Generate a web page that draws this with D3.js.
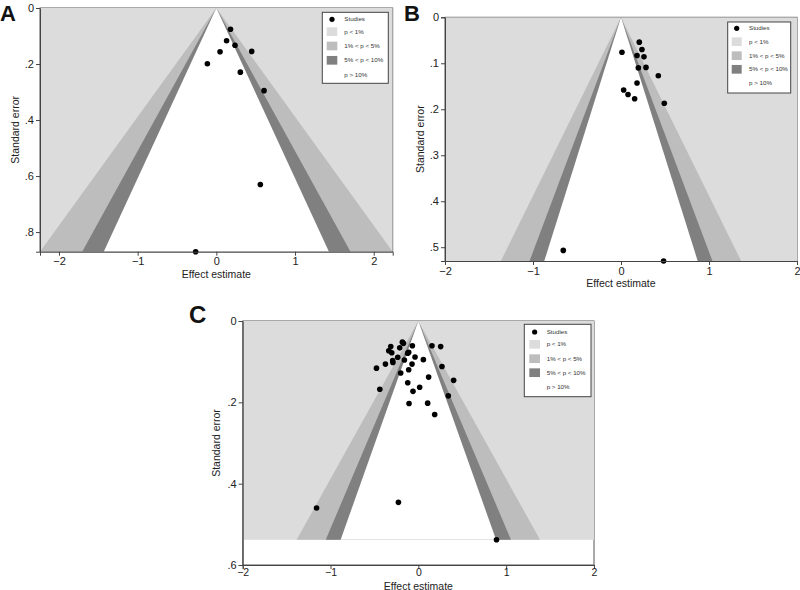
<!DOCTYPE html>
<html>
<head>
<meta charset="utf-8">
<script src="https://cdn.jsdelivr.net/npm/d3@7"></script>
<style>
html,body{margin:0;padding:0;background:#fff;}
svg{display:block;font-family:"Liberation Sans",Arial,sans-serif;}
</style>
</head>
<body>
<svg id="chart" width="800" height="590"></svg>
<script>
// ---- data ----
const panelNames = ["A", "B", "C"];
const contourZ = [2.576, 1.96, 1.645];
const contourFill = ["#bdbdbd", "#808080", "#ffffff"];
const legendLabels = ["Studies", "p < 1%", "1% < p < 5%", "5% < p < 10%", "p > 10%"];
const legendColors = [null, "#dcdcdc", "#bdbdbd", "#808080", null];

const effectA = [0.18, 0.13, 0.047, 0.237, 0.449, -0.114, 0.305, 0.606, 0.559, -0.263];
const seA     = [0.076, 0.117, 0.156, 0.133, 0.155, 0.199, 0.229, 0.295, 0.630, 0.870];
const xTicksA = [-2, -1, 0, 1, 2];
const yTicksA = [0, 0.2, 0.4, 0.6, 0.8];

const effectB = [0.208, 0.238, 0.011, 0.182, 0.261, 0.197, 0.284, 0.424, 0.182, 0.03, 0.08, 0.155, 0.492, -0.656, 0.484];
const seB     = [0.054, 0.070, 0.076, 0.083, 0.086, 0.110, 0.109, 0.127, 0.143, 0.158, 0.168, 0.177, 0.187, 0.507, 0.530];
const xTicksB = [-2, -1, 0, 1, 2];
const yTicksB = [0, 0.1, 0.2, 0.3, 0.4, 0.5];

const effectC = [-0.182, -0.17, -0.068, 0.155, 0.254, -0.314, -0.212, -0.337, -0.303, -0.121, -0.11, -0.038, -0.235, 0.057, -0.159, -0.292, -0.29, -0.375, -0.072, -0.477, 0.269, -0.110, -0.201, 0.117, 0.402, -0.121, 0.015, -0.439, -0.061, 0.341, -0.106, 0.106, 0.186, -0.227, -1.159, 0.890];
const seC     = [0.052, 0.055, 0.061, 0.061, 0.063, 0.063, 0.066, 0.073, 0.078, 0.079, 0.077, 0.0885, 0.089, 0.095, 0.096, 0.0975, 0.102, 0.106, 0.106, 0.116, 0.112, 0.120, 0.128, 0.138, 0.146, 0.152, 0.163, 0.168, 0.173, 0.184, 0.203, 0.202, 0.230, 0.446, 0.460, 0.538];
const xTicksC = [-2, -1, 0, 1, 2];
const yTicksC = [0, 0.2, 0.4, 0.6];

const panels = [
  {name:"A", eff:effectA, se:seA, xt:xTicksA, yt:yTicksA, xDom:null, yMax:null, xtSize:11, xtPad:2,
   x0:40, x1:392.7, y0:8, y1:251.7, letter:[0,21,22], yTitleX:15, xTitleY:277.5, legend:[322.3,12.3,66,71], lg:{sw:[326.7,10.6,8.7], tx:344.3, rows:[19.3,31.7,46,60.3,75]}},
  {name:"B", eff:effectB, se:seB, xt:xTicksB, yt:yTicksB, xDom:[-2,2], yMax:null, xtSize:11, xtPad:2,
   x0:445, x1:797, y0:17.3, y1:261, letter:[404,21,22], yTitleX:420, xTitleY:287, legend:[727.7,22,63,71], lg:{sw:[731.7,10,8.7], tx:749, rows:[28.3,41.7,55.7,69.3,83.3]}},
  {name:"C", eff:effectC, se:seC, xt:xTicksC, yt:yTicksC, xDom:[-2,2], yMax:0.6, xtSize:10.5, xtPad:0,
   x0:242.7, x1:594, y0:321, y1:565, letter:[189,323,24], yTitleX:216.7, xTitleY:589.5, legend:[524.3,324.3,66.7,72.4], lg:{sw:[529.3,10.7,8.7], tx:546.7, rows:[332,344.3,358.7,372.7,387.3]}}
];

const svg = d3.select("#chart");
const fmt = d => d === 0 ? "0" : d3.format(".1f")(d).replace(/^0/, "").replace(/^-0/, "-");

panels.forEach((p, i) => {
  const maxSE = d3.max(p.se);
  const xDom = p.xDom || [-contourZ[0]*maxSE, contourZ[0]*maxSE];
  const yMax = p.yMax || maxSE;
  const x = d3.scaleLinear().domain(xDom).range([p.x0, p.x1]);
  const y = d3.scaleLinear().domain([0, yMax]).range([p.y0, p.y1]);
  const g = svg.append("g");
  const clipId = "clip" + i;
  svg.append("clipPath").attr("id", clipId).append("rect")
    .attr("x", p.x0).attr("y", p.y0).attr("width", p.x1 - p.x0).attr("height", p.y1 - p.y0);

  // plot region outline (visible where not covered)
  g.append("rect").attr("x", p.x0).attr("y", p.y0).attr("width", p.x1 - p.x0).attr("height", p.y1 - p.y0)
    .attr("fill", "#fff").attr("stroke", "#555").attr("stroke-width", 1);

  const shade = g.append("g").attr("clip-path", `url(#${clipId})`);
  shade.append("rect").attr("x", x(xDom[0])).attr("y", y(0))
    .attr("width", x(xDom[1]) - x(xDom[0])).attr("height", y(maxSE) - y(0))
    .attr("fill", "#dcdcdc");
  contourZ.forEach((z, k) => {
    const pts = [[0, 0], [-z*maxSE, maxSE], [z*maxSE, maxSE]];
    shade.append("path")
      .attr("d", d3.line().x(d => x(d[0])).y(d => y(d[1]))(pts) + "Z")
      .attr("fill", contourFill[k]);
  });

  // points
  g.append("g").selectAll("circle").data(p.eff.map((e, j) => [e, p.se[j]])).join("circle")
    .attr("cx", d => x(d[0])).attr("cy", d => y(d[1])).attr("r", 2.8).attr("fill", "#000");

  // axes
  const ax = g.append("g").attr("transform", `translate(0,${p.y1})`)
    .call(d3.axisBottom(x).tickValues(p.xt).tickSize(4).tickPadding(p.xtPad).tickFormat(d3.format("d")));
  const ay = g.append("g").attr("transform", `translate(${p.x0},0)`)
    .call(d3.axisLeft(y).tickValues(p.yt).tickSize(4).tickPadding(2).tickFormat(fmt));
  [ax, ay].forEach(a => {
    a.select(".domain").attr("stroke", "#444");
    a.selectAll(".tick line").attr("stroke", "#444");
    a.selectAll("text").attr("font-size", 11).attr("fill", "#222").attr("font-family", "Liberation Sans, Arial, sans-serif");
  });
  ax.selectAll("text").attr("font-size", p.xtSize);

  g.append("text").attr("x", x(0)).attr("y", p.xTitleY)
    .attr("text-anchor", "middle").attr("font-size", 10.5).attr("fill", "#222").text("Effect estimate");
  g.append("text").attr("transform", `translate(${p.yTitleX},${(p.y0 + p.y1) / 2}) rotate(-90)`)
    .attr("text-anchor", "middle").attr("dy", "0.35em").attr("font-size", 10.5).attr("fill", "#222").text("Standard error");

  g.append("text").attr("x", p.letter[0]).attr("y", p.letter[1]).attr("font-size", p.letter[2])
    .attr("font-weight", "bold").attr("fill", "#111").text(p.name);

  // legend
  const [lx, ly, lw, lh] = p.legend;
  const lgG = g.append("g");
  lgG.append("rect").attr("x", lx).attr("y", ly).attr("width", lw).attr("height", lh)
    .attr("fill", "#fff").attr("stroke", "#444").attr("stroke-width", 1);
  legendLabels.forEach((lab, k) => {
    const cy = p.lg.rows[k];
    if (k === 0) {
      lgG.append("circle").attr("cx", p.lg.sw[0] + p.lg.sw[1] / 2).attr("cy", cy).attr("r", 2.6).attr("fill", "#000");
    } else if (legendColors[k]) {
      lgG.append("rect").attr("x", p.lg.sw[0]).attr("y", cy - p.lg.sw[2] / 2)
        .attr("width", p.lg.sw[1]).attr("height", p.lg.sw[2]).attr("fill", legendColors[k]);
    }
    lgG.append("text").attr("x", p.lg.tx).attr("y", cy).attr("dy", "0.35em")
      .attr("font-size", 6.2).attr("fill", "#333").text(lab);
  });
});
</script>
</body>
</html>
